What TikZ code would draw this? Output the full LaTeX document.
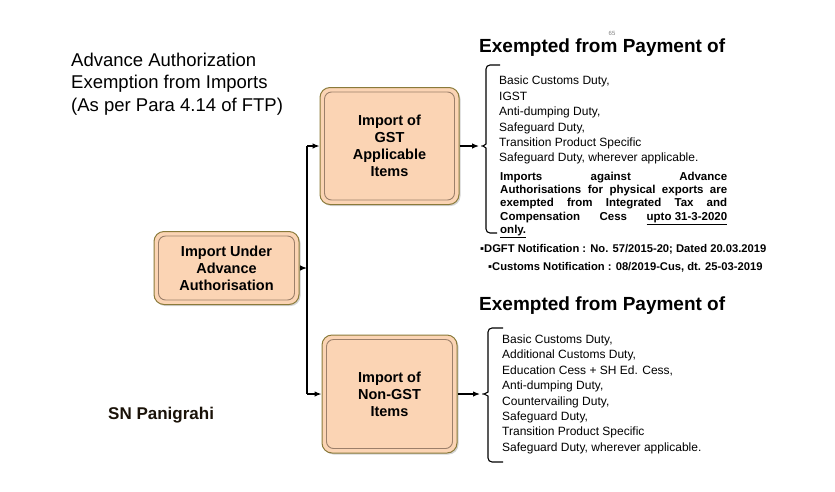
\documentclass[tikz,border=0pt]{standalone}
\usepackage{fontspec}
\setmainfont{Liberation Sans}
\usepackage{xcolor}
\usepackage{tikz}
\definecolor{boxfill}{HTML}{FBD4B4}
\definecolor{boxedge}{HTML}{8A7A3A}
\definecolor{boxinner}{HTML}{9C7F6A}
\definecolor{authorbrown}{HTML}{1A1208}
\usetikzlibrary{arrows, arrows.meta, positioning, calc, shadows}

\begin{document}
\begin{tikzpicture}[x=1pt, y=-1pt,
  importbox/.style={rectangle, rounded corners=10pt, draw=boxedge, line width=1pt, fill=boxfill, align=center,
    font=\fontsize{14.5}{17}\selectfont\bfseries,
    drop shadow={shadow xshift=1.5pt, shadow yshift=-1.5pt, opacity=0.35}},
  innerline/.style={draw=boxinner, line width=0.9pt, rounded corners=7pt},
  conn/.style={line width=1.2pt, black},
  tip/.style={-{Latex[length=7pt, width=5.5pt]}},
  bracestyle/.style={line width=1.1pt, black, rounded corners=4pt},
  listtext/.style={anchor=north west, inner sep=0pt, align=left, font=\fontsize{12}{15.4}\selectfont},
  heading/.style={anchor=base west, inner sep=0pt, font=\fontsize{19}{22}\selectfont\bfseries},
  notice/.style={anchor=base west, inner sep=0pt, font=\fontsize{11.2}{12}\selectfont\bfseries}]
\useasboundingbox (0,0) rectangle (835,491);

% Title
\node[anchor=north west, inner sep=0pt, align=left, font=\fontsize{18.5}{22.5}\selectfont] (title) at (71,52.5)
  {Advance Authorization\\Exemption from Imports\\(As per Para 4.14 of FTP)};

% Import boxes
\node[importbox, minimum width=145pt, minimum height=73pt] (adv) at (226.5,268) {Import Under\\Advance\\Authorisation};
\node[importbox, minimum width=139pt, minimum height=117pt] (gst) at (389.5,146) {Import of\\GST\\Applicable\\Items};
\node[importbox, minimum width=135pt, minimum height=118pt] (nongst) at (389.5,394) {Import of\\Non-GST\\Items};
\foreach \b in {adv,gst,nongst}
  \draw[innerline] ($(\b.north west)+(5,5)$) rectangle ($(\b.south east)+(-5,-5)$);

% Connectors from the left box
\coordinate (spine) at (307,268);
\draw[conn, tip] (adv.east) -- (spine);
\draw[conn] (gst.west -| spine) -- (nongst.west -| spine);
\draw[conn, tip] (gst.west -| spine) -- (gst.west);
\draw[conn, tip] (nongst.west -| spine) -- (nongst.west);

% Braces
\coordinate (gtip) at (479,146);
\coordinate (ntip) at (480,394);
\draw[conn, tip] (gst.east) -- (gtip);
\draw[conn, tip] (nongst.east) -- (ntip);
\draw[bracestyle] (500,65) -- (486,65) -- (486,140) .. controls (486,144) and (483,146) .. (gtip)
  .. controls (483,146) and (486,148) .. (486,152) -- (486,233) -- (497,233);
\draw[bracestyle] (503,328) -- (488,328) -- (488,388) .. controls (488,392) and (484,394) .. (ntip)
  .. controls (484,394) and (488,396) .. (488,400) -- (488,462) -- (503,462);

% Exemptions for GST items
\node[heading] (gsthead) at (479,52) {Exempted from Payment of};
\node[text=gray, font=\fontsize{6}{7}\selectfont, inner sep=0pt] (pageno) at (612,33) {65};
\node[listtext] (gstlist) at (499,76)
  {Basic Customs Duty,\\IGST\\Anti-dumping Duty,\\Safeguard Duty,\\Transition Product Specific\\Safeguard Duty, wherever applicable.};
\node[anchor=north west, inner sep=0pt, text width=227pt, align=justify, font=\fontsize{11.5}{13.2}\selectfont\bfseries] (gstnote) at (500,172)
  {Imports against Advance\linebreak Authorisations for physical exports are\linebreak exempted from Integrated Tax and\linebreak Compensation Cess \underline{upto 31-3-2020}\linebreak \underline{only.}};
\node[notice] (dgft) at (480,252) {▪DGFT Notification : No. 57/2015-20; Dated 20.03.2019};
\node[notice] (cust) at (488,270) {▪Customs Notification : 08/2019-Cus, dt. 25-03-2019};

% Exemptions for non-GST items
\node[heading] (nongsthead) at (479,310) {Exempted from Payment of};
\node[listtext] (nongstlist) at (502,334.5)
  {Basic Customs Duty,\\Additional Customs Duty,\\Education Cess + SH Ed. Cess,\\Anti-dumping Duty,\\Countervailing Duty,\\Safeguard Duty,\\Transition Product Specific\\Safeguard Duty, wherever applicable.};

% Author
\node[anchor=base west, inner sep=0pt, text=authorbrown, font=\fontsize{17}{20}\selectfont\bfseries] (author) at (108,419) {SN Panigrahi};
\end{tikzpicture}
\end{document}
